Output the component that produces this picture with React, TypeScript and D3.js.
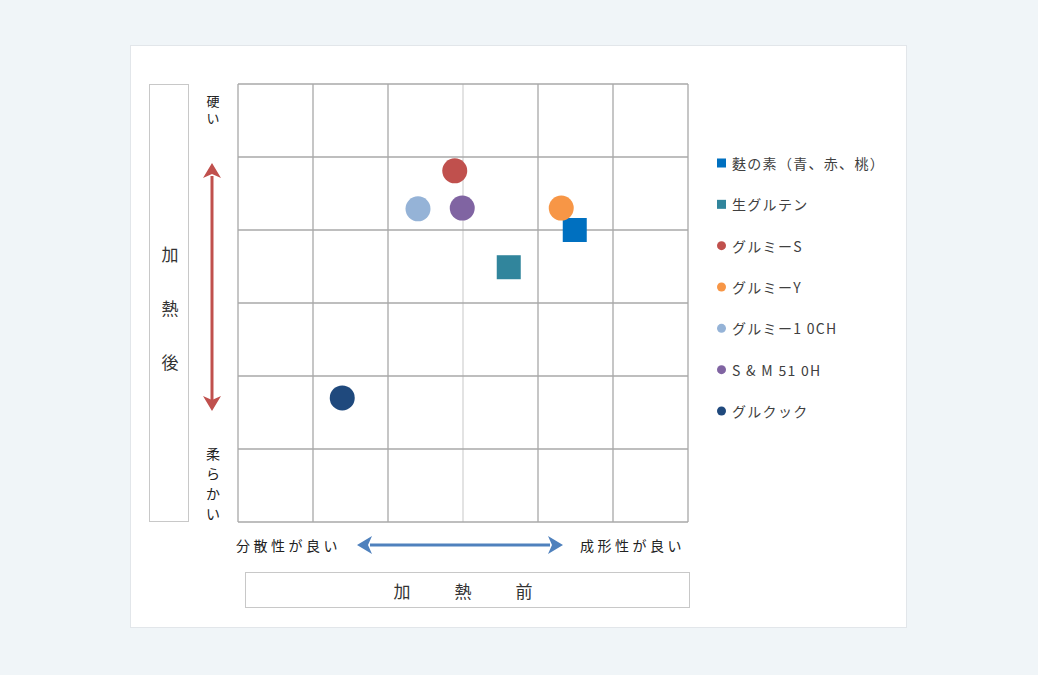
import * as d3 from "d3";

// series (grid units 0..6 on both axes)
const seriesNames = [
  "麩の素（青、赤、桃）",
  "生グルテン",
  "グルミーS",
  "グルミーY",
  "グルミー1 0CH",
  "S & M 51 0H",
  "グルクック",
];
const xValues = [4.49, 3.61, 2.89, 4.31, 2.4, 2.99, 1.39];
const yValues = [4.0, 3.49, 4.81, 4.3, 4.29, 4.3, 1.7];
const shapes = ["square", "square", "circle", "circle", "circle", "circle", "circle"];
const colors = ["#0070c0", "#31859c", "#c0504d", "#f79646", "#95b3d7", "#8064a2", "#1f497d"];

const gridTicks = [0, 1, 2, 3, 4, 5, 6];
const yAxisTitle = ["加", "熱", "後"];
const xAxisTitle = ["加", "熱", "前"];
const hardLabel = ["硬", "い"];
const softLabel = ["柔", "ら", "か", "い"];
const leftLabel = "分散性が良い";
const rightLabel = "成形性が良い";

const FONT = "'Noto Sans CJK JP', 'Noto Sans', sans-serif";

export default function App() {
  const plot = { left: 238, right: 688, top: 84, bottom: 522 };
  const x = d3.scaleLinear().domain([0, 6]).range([plot.left, plot.right]);
  const y = d3.scaleLinear().domain([0, 6]).range([plot.bottom, plot.top]);

  const legendY = d3.scalePoint().domain(seriesNames).range([163, 411]);

  return (
    <svg
      width={1038}
      height={675}
      style={{ position: "absolute", left: 0, top: 0, fontFamily: FONT }}
    >
      <rect width={1038} height={675} fill="#f0f5f8" />
      <rect x={130.5} y={45.5} width={776} height={582} fill="#fff" stroke="#e2e6ea" />

      {/* grid */}
      <g>
        {gridTicks.map((t) => (
          <line
            key={"v" + t}
            x1={x(t)}
            x2={x(t)}
            y1={plot.top}
            y2={plot.bottom}
            stroke={t === 3 ? "#d4d4d4" : "#a8a8a8"}
            strokeWidth={1.3}
          />
        ))}
        {gridTicks.map((t) => (
          <line
            key={"h" + t}
            x1={plot.left}
            x2={plot.right}
            y1={y(t)}
            y2={y(t)}
            stroke="#a8a8a8"
            strokeWidth={1.3}
          />
        ))}
      </g>

      {/* points */}
      <g>
        {seriesNames.map((name, i) =>
          shapes[i] === "square" ? (
            <rect
              key={name}
              x={x(xValues[i]) - 12}
              y={y(yValues[i]) - 12}
              width={24}
              height={24}
              fill={colors[i]}
            />
          ) : (
            <circle key={name} cx={x(xValues[i])} cy={y(yValues[i])} r={12.5} fill={colors[i]} />
          )
        )}
      </g>

      {/* left title box */}
      <rect x={149.5} y={84.5} width={39} height={437} fill="#fff" stroke="#c8c8c8" />
      {yAxisTitle.map((c, i) => (
        <text key={c} x={170} y={253 + i * 54} fontSize={17} fill="#333" textAnchor="middle" dominantBaseline="central">
          {c}
        </text>
      ))}

      {/* vertical labels */}
      {hardLabel.map((c, i) => (
        <text key={"h" + i} x={213} y={100 + i * 17} fontSize={13} fill="#222" textAnchor="middle" dominantBaseline="central">
          {c}
        </text>
      ))}
      {softLabel.map((c, i) => (
        <text key={"s" + i} x={213} y={453 + i * 20} fontSize={14} fill="#222" textAnchor="middle" dominantBaseline="central">
          {c}
        </text>
      ))}

      {/* red double arrow */}
      <line x1={212} x2={212} y1={176} y2={400} stroke="#c0504d" strokeWidth={3} />
      <path d="M212,163 L203,178 L212,174 L221,178 Z" fill="#c0504d" />
      <path d="M212,411 L203,396 L212,400 L221,396 Z" fill="#c0504d" />

      {/* bottom labels */}
      <text x={236} y={545} fontSize={14} fill="#222" letterSpacing={3.5} dominantBaseline="central">
        {leftLabel}
      </text>
      <text x={580} y={545} fontSize={14} fill="#222" letterSpacing={3.5} dominantBaseline="central">
        {rightLabel}
      </text>

      {/* blue double arrow */}
      <line x1={370} x2={550} y1={545} y2={545} stroke="#4f81bd" strokeWidth={3} />
      <path d="M357,545 L372,536 L368,545 L372,554 Z" fill="#4f81bd" />
      <path d="M563,545 L548,536 L552,545 L548,554 Z" fill="#4f81bd" />

      {/* bottom title box */}
      <rect x={245.5} y={572.5} width={444} height={35} fill="#fff" stroke="#c8c8c8" />
      {xAxisTitle.map((c, i) => (
        <text key={c} x={402 + i * 61} y={590} fontSize={17} fill="#333" textAnchor="middle" dominantBaseline="central">
          {c}
        </text>
      ))}

      {/* legend */}
      <g>
        {seriesNames.map((name, i) => {
          const ly = legendY(name) as number;
          return (
            <g key={name}>
              {shapes[i] === "square" ? (
                <rect x={717} y={ly - 4.5} width={9} height={9} fill={colors[i]} />
              ) : (
                <circle cx={721.5} cy={ly} r={4.5} fill={colors[i]} />
              )}
              <text x={732} y={ly} fontSize={14} fill="#404040" letterSpacing={1.3} dominantBaseline="central">
                {name}
              </text>
            </g>
          );
        })}
      </g>
    </svg>
  );
}
